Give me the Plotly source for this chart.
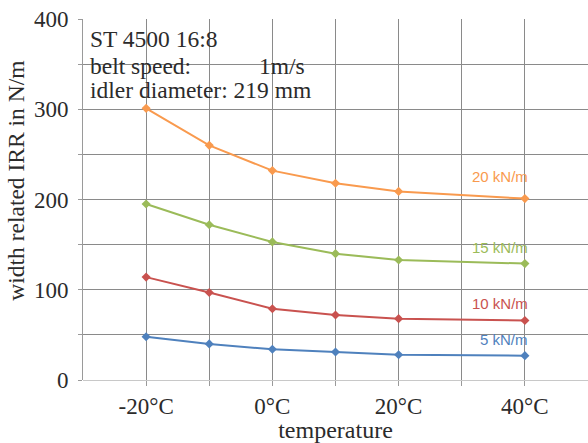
import plotly.graph_objects as go

temps = [-20, -10, 0, 10, 20, 40]
series_names = ["20 kN/m", "15 kN/m", "10 kN/m", "5 kN/m"]
irr_20 = [301, 260, 232, 218, 209, 201]
irr_15 = [195, 172, 153, 140, 133, 129]
irr_10 = [114, 97, 79, 72, 68, 66]
irr_5 = [48, 40, 34, 31, 28, 27]
series_values = [irr_20, irr_15, irr_10, irr_5]
colors = ["#F99A4E", "#9BBB59", "#C9524F", "#4F81BD"]
label_shift = [22, 16, 17, 16]

x_tickvals = [-20, -10, 0, 10, 20, 30, 40]
x_ticktext = ["-20°C", "", "0°C", "", "20°C", "", "40°C"]
y_tickvals = [0, 50, 100, 150, 200, 250, 300, 350, 400]
y_ticktext = ["0", "", "100", "", "200", "", "300", "", "400"]

info_lines = ["ST 4500 16:8", "belt speed:", "idler diameter: 219 mm"]
speed_text = "1m/s"
x_title = "temperature"
y_title = "width related IRR in N/m"

serif = "Liberation Serif"
sans = "Liberation Sans"
txtcol = "#2b2b2b"

fig = go.Figure()
for name, vals, col, sh in zip(series_names, series_values, colors, label_shift):
    fig.add_trace(go.Scatter(
        x=temps, y=vals, mode="lines+markers", name=name,
        line=dict(color=col, width=2),
        marker=dict(symbol="diamond", size=7, color=col),
        showlegend=False, cliponaxis=False))
    fig.add_annotation(x=temps[-1], y=vals[-1], text=name, showarrow=False,
                       xanchor="right", yanchor="middle", yshift=sh, xshift=5,
                       font=dict(family=sans, size=15, color=col))

# white box behind the info text (covers grid, under data)
fig.add_shape(type="rect", xref="paper", yref="paper", x0=0.003, x1=0.505,
              y0=0.768, y1=0.996, fillcolor="white", line=dict(width=0),
              layer="between")

info_y = [0.945, 0.871, 0.803]
for txt, yy in zip(info_lines, info_y):
    fig.add_annotation(xref="paper", yref="paper", x=0.010, y=yy, text=txt,
                       showarrow=False, xanchor="left", yanchor="middle",
                       font=dict(family=serif, size=23.5, color=txtcol))
fig.add_annotation(xref="paper", yref="paper", x=0.345, y=info_y[1], text=speed_text,
                   showarrow=False, xanchor="left", yanchor="middle",
                   font=dict(family=serif, size=23.5, color=txtcol))

# y-axis title (placed slightly above plot centre as in the reference)
fig.add_annotation(xref="paper", yref="paper", x=-0.132, y=0.553, text=y_title,
                   textangle=-90, showarrow=False, xanchor="center", yanchor="middle",
                   font=dict(family=serif, size=23.5, color=txtcol))

fig.update_layout(
    width=588, height=443,
    margin=dict(l=83, r=0, t=19, b=63),
    paper_bgcolor="white", plot_bgcolor="white",
    font=dict(family=serif, color=txtcol),
)
fig.update_xaxes(
    range=[-30, 50], tickvals=x_tickvals, ticktext=x_ticktext,
    showgrid=True, gridcolor="#8a8a8a", gridwidth=1,
    zeroline=False, showline=False,
    ticks="outside", ticklen=5, tickcolor="#9a9a9a", ticklabelstandoff=0,
    tickfont=dict(family=serif, size=23, color=txtcol),
    title=dict(text=x_title, font=dict(family=serif, size=24, color=txtcol), standoff=3),
)
fig.update_yaxes(
    range=[0, 400], tickvals=y_tickvals, ticktext=y_ticktext,
    showgrid=True, gridcolor="#8a8a8a", gridwidth=1,
    zeroline=True, zerolinecolor="#c8c8c8", zerolinewidth=1,
    showline=True, linecolor="#9a9a9a", linewidth=1,
    ticks="outside", ticklen=4, tickcolor="#9a9a9a", ticklabelstandoff=5,
    tickfont=dict(family=serif, size=23, color=txtcol),
)

fig.write_html("out.html")
